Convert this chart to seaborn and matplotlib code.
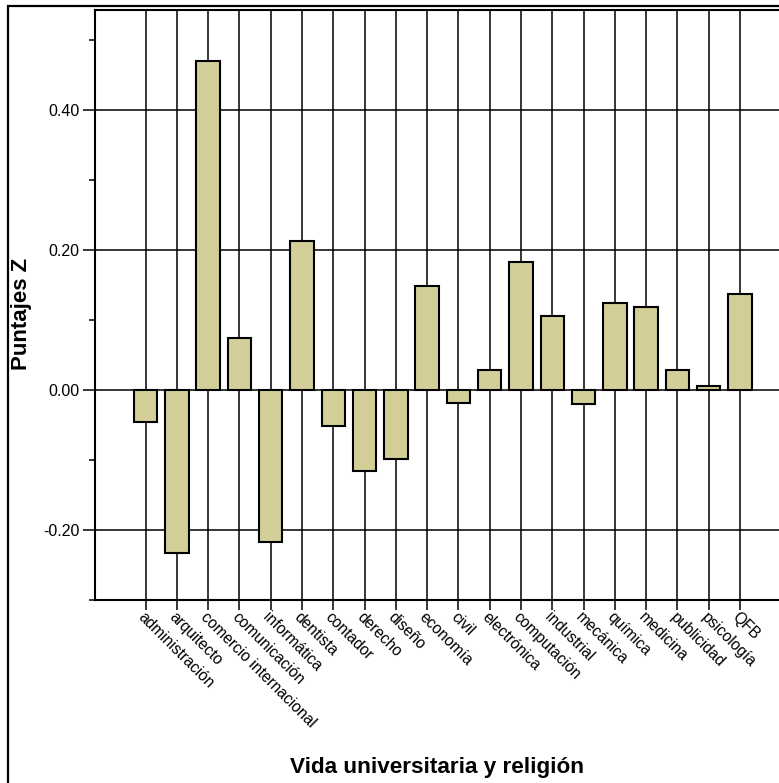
import matplotlib

matplotlib.use("Agg")
import matplotlib.pyplot as plt
import numpy as np
import pandas as pd
import seaborn as sns
from matplotlib.patches import Rectangle
from matplotlib.ticker import MultipleLocator

# values
carreras = [
    "administración", "arquitecto", "comercio internacional", "comunicación",
    "informática", "dentista", "contador", "derecho", "diseño", "economía",
    "civil", "electrónica", "computación", "industrial", "mecánica",
    "química", "medicina", "publicidad", "psicología", "QFB",
]
puntajes_z = [
    -0.045, -0.233, 0.470, 0.074, -0.217, 0.213, -0.051, -0.116, -0.099, 0.148,
    -0.018, 0.028, 0.183, 0.106, -0.020, 0.125, 0.119, 0.029, 0.006, 0.137,
]
y_ticks = [-0.20, 0.00, 0.20, 0.40]

BAR_COLOR = "#D3CE98"
W, H = 779, 783


def main() -> None:
    sns.set_theme(style="white")
    plt.rcParams["font.family"] = ["Liberation Sans", "DejaVu Sans"]
    plt.rcParams["text.color"] = "black"
    plt.rcParams["xtick.color"] = "black"
    plt.rcParams["ytick.color"] = "black"
    plt.rcParams["axes.labelcolor"] = "black"

    df = pd.DataFrame({"carrera": carreras, "z": puntajes_z})

    fig = plt.figure(figsize=(W / 100, H / 100), dpi=100)
    ax = fig.add_axes([95 / W, 1 - 600 / H, (W - 95) / W + 0.01, 590 / H])

    sns.barplot(
        data=df, x="carrera", y="z", color=BAR_COLOR, saturation=1,
        edgecolor="black", linewidth=1.5, width=0.75, ax=ax, zorder=3,
    )

    ax.set_xlim(-1.62, 20.5)
    ax.set_ylim(-0.30, 0.543)
    ax.set_yticks(y_ticks)
    ax.set_yticklabels([f"{v:.2f}" for v in y_ticks])
    ax.yaxis.set_minor_locator(MultipleLocator(0.1))

    ax.grid(True, which="major", axis="both", color="black", linewidth=1.1, zorder=0)
    ax.set_axisbelow(True)

    for side in ("left", "bottom", "top"):
        ax.spines[side].set_visible(True)
        ax.spines[side].set_color("black")
        ax.spines[side].set_linewidth(1.5)
    ax.spines["right"].set_visible(False)

    ax.tick_params(axis="y", which="major", direction="out", length=9, width=1.1,
                   color="black", labelcolor="black", left=True, labelsize=11.5, pad=2)
    ax.tick_params(axis="y", which="minor", direction="out", length=4.5, width=1.1,
                   color="black", left=True)
    ax.tick_params(axis="x", which="major", direction="out", length=7, width=1.1,
                   color="black", labelcolor="black", bottom=True, labelsize=11.2, pad=0)

    for lbl in ax.get_xticklabels():
        lbl.set_rotation(-45)
        lbl.set_ha("left")
        lbl.set_va("top")
        lbl.set_rotation_mode("anchor")

    ax.set_xlabel("")
    ax.set_ylabel("")
    fig.text(437 / W, 1 - 768 / H, "Vida universitaria y religión", ha="center",
             va="center", fontsize=16.2, fontweight="bold", color="black")
    fig.text(22 / W, 1 - 314 / H, "Puntajes Z", ha="center", va="center",
             rotation=90, fontsize=16, fontweight="bold", color="black")

    # outer frame, cropped at right and bottom
    fig.patches.append(Rectangle((8 / W, -0.1), 1.2, 1.1 - 6 / H, transform=fig.transFigure,
                                 fill=False, edgecolor="black", linewidth=1.6))

    fig.savefig("out.png", dpi=100)
    plt.close(fig)


if __name__ == "__main__":
    main()
